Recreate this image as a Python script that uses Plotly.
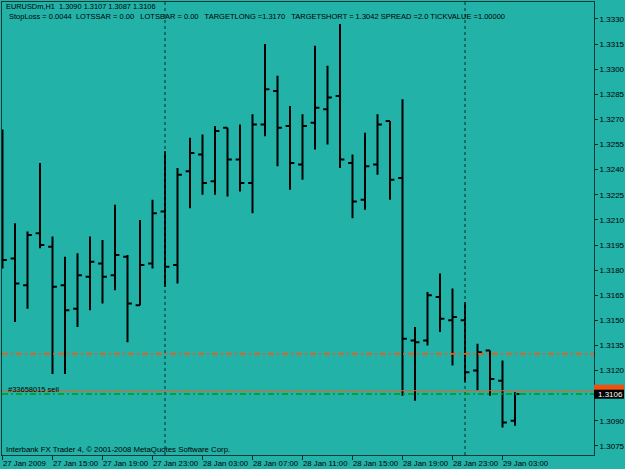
import pandas as pd
import plotly.graph_objects as go

# ---- data (EURUSDm H1, 27 Jan 2009 11:00 .. 29 Jan 2009 04:00) ----
times = pd.date_range("2009-01-27 11:00", periods=42, freq="h")
opens = [1.3240, 1.3187, 1.3171, 1.3202, 1.3194, 1.3171, 1.3157, 1.3176, 1.3184, 1.3177,
         1.3188, 1.3159, 1.3184, 1.3215, 1.3183, 1.3239, 1.3249, 1.3233, 1.3265, 1.3246,
         1.3232, 1.3267, 1.3287, 1.3266, 1.3243, 1.3268, 1.3276, 1.3284, 1.3244, 1.3222,
         1.3243, 1.3269, 1.3235, 1.3138, 1.3138, 1.3164, 1.3150, 1.3150, 1.3120, 1.3132,
         1.3114, 1.3090]
highs = [1.3264, 1.3208, 1.3203, 1.3244, 1.3200, 1.3188, 1.3190, 1.3200, 1.3198, 1.3219,
         1.3189, 1.3210, 1.3222, 1.3251, 1.3241, 1.3259, 1.3261, 1.3266, 1.3265, 1.3267,
         1.3273, 1.3315, 1.3296, 1.3278, 1.3273, 1.3314, 1.3302, 1.3327, 1.3249, 1.3262,
         1.3273, 1.3269, 1.3282, 1.3146, 1.3167, 1.3178, 1.3169, 1.3161, 1.3136, 1.3132,
         1.3126, 1.3107]
lows = [1.3181, 1.3149, 1.3157, 1.3193, 1.3118, 1.3118, 1.3146, 1.3156, 1.3160, 1.3168,
        1.3137, 1.3159, 1.3181, 1.3170, 1.3172, 1.3217, 1.3225, 1.3225, 1.3224, 1.3227,
        1.3214, 1.3260, 1.3242, 1.3228, 1.3234, 1.3252, 1.3255, 1.3241, 1.3211, 1.3216,
        1.3237, 1.3222, 1.3105, 1.3102, 1.3135, 1.3143, 1.3123, 1.3113, 1.3108, 1.3105,
        1.3086, 1.3087]
closes = [1.3186, 1.3172, 1.3201, 1.3195, 1.3170, 1.3156, 1.3177, 1.3185, 1.3176, 1.3189,
          1.3160, 1.3183, 1.3214, 1.3182, 1.3237, 1.3250, 1.3232, 1.3263, 1.3246, 1.3232,
          1.3267, 1.3288, 1.3265, 1.3244, 1.3266, 1.3277, 1.3283, 1.3246, 1.3221, 1.3242,
          1.3267, 1.3234, 1.3139, 1.3137, 1.3165, 1.3151, 1.3152, 1.3119, 1.3131, 1.3115,
          1.3089, 1.3106]

x_tickvals = ["2009-01-27 11:00", "2009-01-27 15:00", "2009-01-27 19:00", "2009-01-27 23:00",
              "2009-01-28 03:00", "2009-01-28 07:00", "2009-01-28 11:00", "2009-01-28 15:00",
              "2009-01-28 19:00", "2009-01-28 23:00", "2009-01-29 03:00"]
x_ticktext = ["27 Jan 2009", "27 Jan 15:00", "27 Jan 19:00", "27 Jan 23:00", "28 Jan 03:00",
              "28 Jan 07:00", "28 Jan 11:00", "28 Jan 15:00", "28 Jan 19:00", "28 Jan 23:00",
              "29 Jan 03:00"]
y_tickvals = [1.3075, 1.3090, 1.3120, 1.3135, 1.3150, 1.3165, 1.3180, 1.3195, 1.3210,
              1.3225, 1.3240, 1.3255, 1.3270, 1.3285, 1.3300, 1.3315, 1.3330]
day_separators = ["2009-01-28 00:00", "2009-01-29 00:00"]

stop_level = 1.3130
order_level = 1.3108
bid_level = 1.3106

BG = "#22b2a8"
FONT = "Liberation Sans"
PLOT_H = 453  # plot area height in px (y 2..455)

fig = go.Figure()
fig.add_trace(go.Ohlc(
    x=times, open=opens, high=highs, low=lows, close=closes,
    increasing=dict(line=dict(color="black", width=2)),
    decreasing=dict(line=dict(color="black", width=2)),
    tickwidth=0.35, showlegend=False, hoverinfo="skip"))

shapes = []
for d in day_separators:
    shapes.append(dict(type="line", xref="x", yref="paper", x0=d, x1=d, y0=0, y1=1,
                       line=dict(color="#0a2a28", width=1, dash="dot")))
shapes.append(dict(type="line", xref="paper", yref="y", x0=0, x1=1, y0=stop_level, y1=stop_level,
                   line=dict(color="#ff5410", width=1.6, dash="6px,3px,2px,3px")))
shapes.append(dict(type="line", xref="paper", yref="y", x0=0, x1=1, y0=order_level, y1=order_level,
                   line=dict(color="#e8602a", width=1)))
shapes.append(dict(type="line", xref="paper", yref="y", x0=0, x1=1, y0=bid_level, y1=bid_level,
                   line=dict(color="#0a960a", width=1.6, dash="6px,3px,2px,3px")))
# price labels on the right axis
shapes.append(dict(type="rect", xref="paper", yref="y", x0=1.0, x1=1.0507,
                   y0=order_level - 0.00036, y1=order_level + 0.00036,
                   fillcolor="#f05010", line=dict(width=0), layer="above"))
shapes.append(dict(type="rect", xref="paper", yref="y", x0=1.0, x1=1.0507,
                   y0=bid_level - 0.00028, y1=bid_level + 0.00026,
                   fillcolor="#000000", line=dict(width=0), layer="above"))

annos = [
    dict(text="EURUSDm,H1  1.3090 1.3107 1.3087 1.3106", x=0.004, y=(455 - 6) / PLOT_H, size=7.4),
    dict(text="StopLoss = 0.0044  LOTSSAR = 0.00   LOTSBAR = 0.00   TARGETLONG =1.3170   "
              "TARGETSHORT = 1.3042 SPREAD =2.0 TICKVALUE =1.00000", x=0.008,
         y=(455 - 16) / PLOT_H, size=7.5),
    dict(text="Interbank FX Trader 4, \u00a9 2001-2008 MetaQuotes Software Corp.", x=0.004,
         y=(455 - 449) / PLOT_H, size=7.8),
    dict(text="#33658015 sell", x=0.007, y=(455 - 389) / PLOT_H, size=7.5),
]
annotations = []
for a in annos:
    annotations.append(dict(text=a["text"], x=a["x"], y=a["y"], xref="paper", yref="paper",
                            xanchor="left", yanchor="middle", showarrow=False,
                            font=dict(family=FONT, size=a["size"], color="black")))
annotations.append(dict(text="1.3106", x=1.004, y=bid_level, xref="paper", yref="y",
                        xanchor="left", yanchor="middle", showarrow=False,
                        font=dict(family=FONT, size=8, color="white")))
# x tick labels, left-aligned at their tick (MetaTrader style)
for tv, tt in zip(x_tickvals, x_ticktext):
    annotations.append(dict(text=tt, x=tv, y=(455 - 463) / PLOT_H, xref="x", yref="paper",
                            xanchor="left", yanchor="middle", showarrow=False, xshift=-2,
                            font=dict(family=FONT, size=7.8, color="black")))

fig.update_layout(
    width=625, height=469,
    margin=dict(l=2, r=31, t=2, b=14),
    paper_bgcolor=BG, plot_bgcolor=BG,
    font=dict(family=FONT, size=8, color="black"),
    shapes=shapes, annotations=annotations,
    xaxis=dict(type="date", range=["2009-01-27 10:57:36", "2009-01-29 10:19:12"],
               rangeslider=dict(visible=False), showgrid=False, zeroline=False,
               tickvals=x_tickvals, showticklabels=False, ticks="outside", ticklen=4,
               tickcolor="#0a2a28",
               showline=True, linecolor="#0a3a36", linewidth=1, mirror=True,
               automargin=False),
    yaxis=dict(side="right", range=[1.30696, 1.33401], showgrid=False, zeroline=False,
               tickvals=y_tickvals, ticktext=[f"{v:.4f}" for v in y_tickvals],
               ticks="outside", ticklen=3, tickcolor="#0a2a28",
               showline=True, linecolor="#0a3a36", linewidth=1, mirror=True,
               automargin=False, tickfont=dict(family=FONT, size=8)),
)

fig.write_html("out.html")
